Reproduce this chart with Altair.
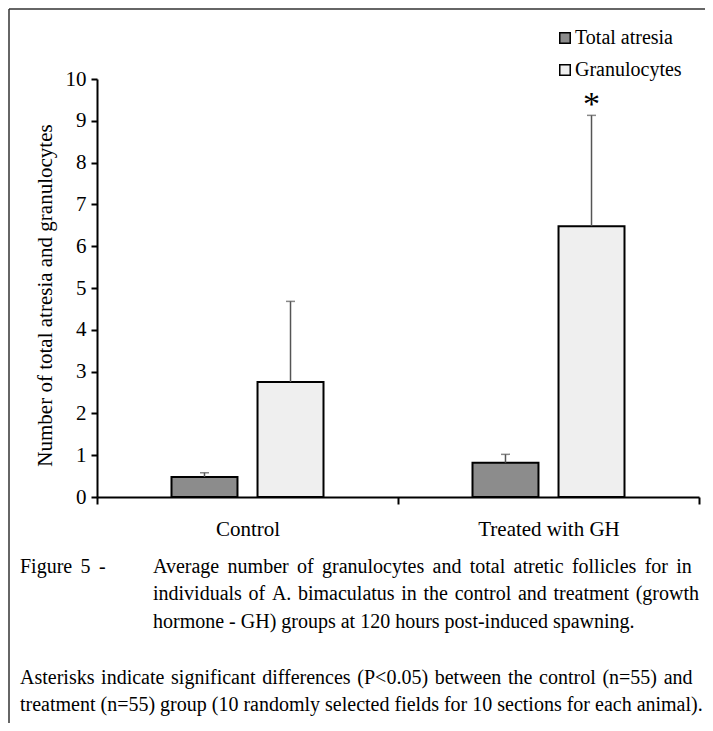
import altair as alt
import pandas as pd

groups = ["Control", "Treated with GH"]
series = ["Total atresia", "Granulocytes"]
control_means = [0.48, 2.75]
control_errs = [0.10, 1.93]
treated_means = [0.82, 6.48]
treated_errs = [0.20, 2.65]
significance = [["", ""], ["", "*"]]
y_ticks = list(range(0, 11))
fills = ["#8c8c8c", "#efefef"]

caption_lines = [
    "Figure 5 -",
    "Average number of granulocytes and total atretic follicles for in",
    "individuals of A. bimaculatus in the control and treatment (growth",
    "hormone - GH) groups at 120 hours post-induced spawning.",
    "Asterisks indicate significant differences (P<0.05) between the control (n=55) and",
    "treatment (n=55) group (10 randomly selected fields for 10 sections for each animal).",
]
# extra inter-word space per line to mimic the justified caption
extra_space = ["\u2006", "\u2006", "\u200a", "", "\u200a", ""]

rows = []
for gi, (g, means, errs) in enumerate([(groups[0], control_means, control_errs),
                                       (groups[1], treated_means, treated_errs)]):
    for si, s in enumerate(series):
        rows.append({"group": g, "series": s, "mean": means[si],
                     "upper": means[si] + errs[si], "sig": significance[gi][si]})
df = pd.DataFrame(rows)

FONT = "Liberation Serif"

x_enc = alt.X("group:N", sort=groups,
              scale=alt.Scale(paddingInner=0, paddingOuter=0),
              axis=alt.Axis(title=None, labelAngle=0, tickBand="extent", tickSize=7,
                            labelPadding=14, labelFontSize=21))
xo_enc = alt.XOffset("series:N", sort=series,
                     scale=alt.Scale(paddingInner=0.233, paddingOuter=0.866))
y_scale = alt.Scale(domain=[0, 10], nice=False)

base = alt.Chart(df)

bars = base.mark_bar(stroke="black", strokeWidth=2).encode(
    x=x_enc,
    xOffset=xo_enc,
    y=alt.Y("mean:Q", scale=y_scale,
            axis=alt.Axis(values=y_ticks, title="Number of total atresia and granulocytes",
                          tickSize=6, labelPadding=5, titleFontSize=21,
                          titleX=-52, titleY=216, titleAlign="center",
                          titleBaseline="middle", titleFont=FONT,
                          titleFontWeight="normal", titleColor="black")),
    fill=alt.Fill("series:N", sort=series,
                  scale=alt.Scale(domain=series, range=fills),
                  legend=alt.Legend(title=None, orient="none", legendX=458, legendY=-51,
                                    symbolType="square", symbolSize=110,
                                    symbolStrokeColor="black", symbolStrokeWidth=1.5,
                                    labelFont=FONT, labelFontSize=20, labelColor="black",
                                    rowPadding=12, labelOffset=0)),
)

err = base.mark_rule(color="#555555", strokeWidth=1.5).encode(
    x=alt.X("group:N", sort=groups), xOffset=xo_enc,
    y=alt.Y("mean:Q", scale=y_scale), y2="upper:Q")

caps = base.mark_tick(color="#555555", thickness=1.5, size=9, orient="horizontal").encode(
    x=alt.X("group:N", sort=groups), xOffset=xo_enc,
    y=alt.Y("upper:Q", scale=y_scale))

stars = base.mark_text(font=FONT, fontSize=34, color="black", baseline="alphabetic",
                       dy=0).encode(
    x=alt.X("group:N", sort=groups), xOffset=xo_enc,
    y=alt.Y("upper:Q", scale=y_scale), text="sig:N")

one = pd.DataFrame({"a": [0]})
frame_left = alt.Chart(one).mark_rule(color="#333333", strokeWidth=1.5).encode(
    x=alt.value(-88), y=alt.value(-70), y2=alt.value(700))
frame_top = alt.Chart(one).mark_rule(color="#333333", strokeWidth=1.5).encode(
    x=alt.value(-88), x2=alt.value(700), y=alt.value(-70))

cap_pos = [(-77, 494), (56, 494), (56, 521), (56, 549), (-77, 605), (-77, 632)]
caption_layers = []
for line, sep, (cx, cy) in zip(caption_lines, extra_space, cap_pos):
    text = (" " + sep).join(line.split(" ")) if sep else line
    caption_layers.append(
        alt.Chart(pd.DataFrame({"t": [text]})).mark_text(
            font=FONT, fontSize=20, color="black", align="left", baseline="alphabetic"
        ).encode(x=alt.value(cx), y=alt.value(cy), text="t:N")
    )

chart = alt.layer(frame_left, frame_top, bars, err, caps, stars, *caption_layers).properties(
    width=602, height=418,
    autosize=alt.AutoSizeParams(type="none"),
    padding={"left": 89, "top": 71, "right": 6, "bottom": 226},
    background="white",
).configure_view(stroke=None).configure_axis(
    grid=False, domainColor="black", domainWidth=2, tickColor="black", tickWidth=2,
    labelFont=FONT, labelFontSize=21, labelColor="black",
)

chart.save("out.html", embed_options={"renderer": "svg", "actions": False})
